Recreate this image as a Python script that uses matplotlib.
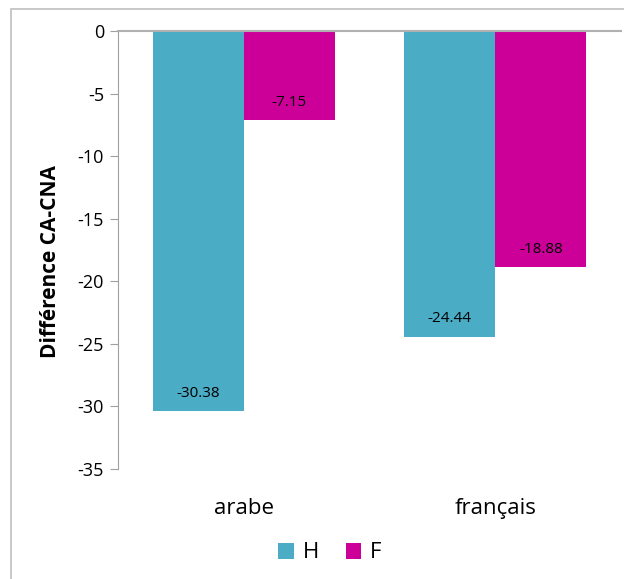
import matplotlib.pyplot as plt
from matplotlib.patches import Rectangle

categories = ["arabe", "français"]
h_vals = [-30.38, -24.44]
f_vals = [-7.15, -18.88]
y_ticks = [0, -5, -10, -15, -20, -25, -30, -35]

plt.rcParams['font.family'] = ['Open Sans', 'DejaVu Sans']

fig = plt.figure(figsize=(6.24, 5.79), dpi=100)
ax = fig.add_axes([118/624, 1-469/579, (621-118)/624, (469-31)/579])

# outer chart border (cropped at right/bottom)
fig.patches.append(Rectangle((11/624, -0.1), 2, 1-9/579+0.1, transform=fig.transFigure,
                             fill=False, edgecolor='#BFBFBF', linewidth=1.2))

w = 0.362
xc = [0.5, 1.5]
bh = ax.bar([x - w/2 for x in xc], h_vals, w, color='#4BACC6', label='H')
bf = ax.bar([x + w/2 for x in xc], f_vals, w, color='#CC0099', label='F')

for bars, vals in ((bh, h_vals), (bf, f_vals)):
    for b, v in zip(bars, vals):
        ax.annotate("%.2f" % v, (b.get_x() + b.get_width()/2, v), xytext=(0, 13),
                    textcoords='offset points', ha='center', va='center', fontsize=11, color='#000000')

ax.set_xlim(0, 2)
ax.set_ylim(-35, 0)
ax.set_yticks(y_ticks)
ax.set_yticklabels([str(t) for t in y_ticks], fontsize=13)
ax.set_xticks(xc)
ax.set_xticklabels(categories, fontsize=16)
ax.tick_params(axis='x', length=0, pad=21)
ax.tick_params(axis='y', length=6, color='#A0A0A0', pad=4, direction='out')

for s in ('right', 'bottom'):
    ax.spines[s].set_visible(False)
ax.spines['left'].set_color('#A0A0A0')
ax.spines['top'].set_color('#B0B0B0')
ax.spines['top'].set_linewidth(1.5)

ax.set_ylabel("Différence CA-CNA", fontsize=15, fontweight='bold')
ax.yaxis.set_label_coords(-0.113, 0.473)

fig.legend(handles=[bh, bf], labels=['H', 'F'], loc='center', bbox_to_anchor=(330/624, 1-553/579),
           ncol=2, frameon=False, fontsize=16, handlelength=0.7, handleheight=0.7,
           handletextpad=0.4, columnspacing=1.2)

fig.savefig("out.png", dpi=100)
